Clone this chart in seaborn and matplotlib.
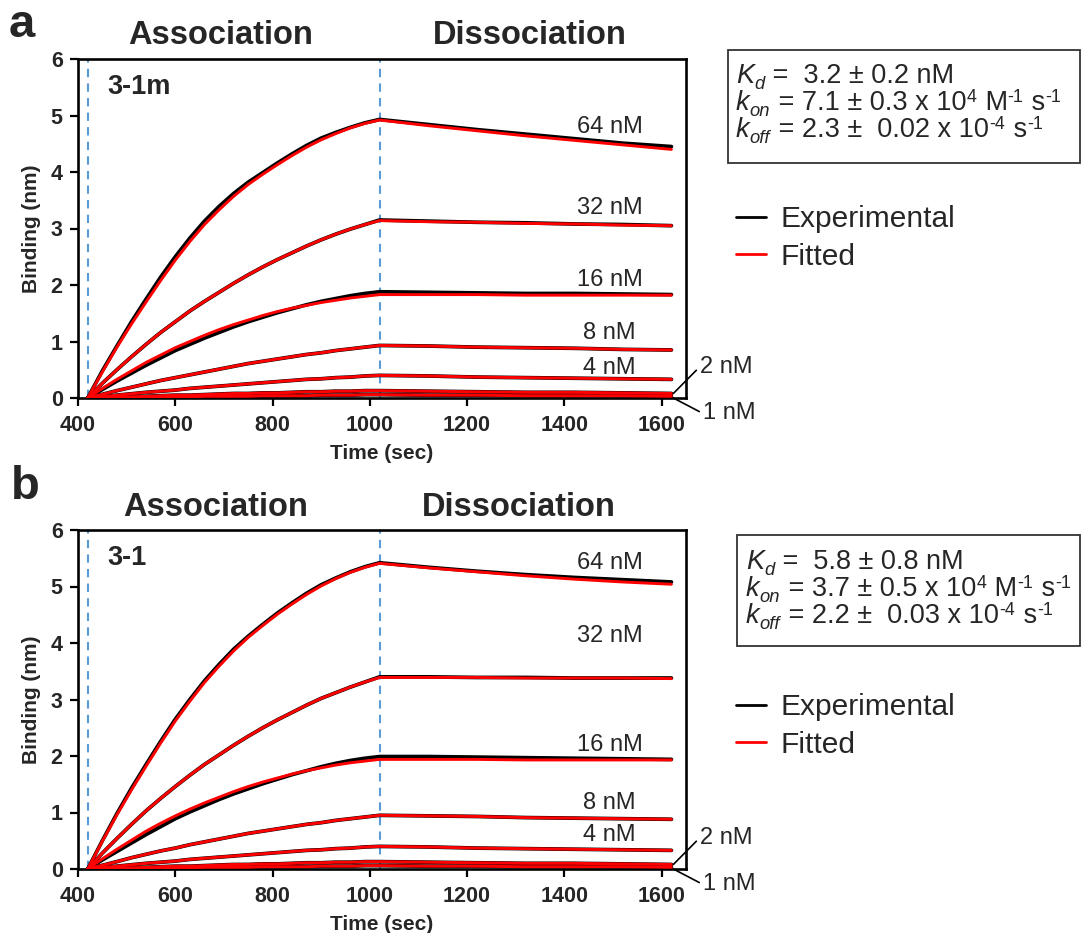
import matplotlib
matplotlib.use("Agg")
import matplotlib.pyplot as plt
from matplotlib.lines import Line2D
from matplotlib.patches import Rectangle
import seaborn as sns
import pandas as pd

# ---------------- data ----------------
T = [420, 450, 480, 510, 540, 570, 600, 630, 660, 690, 720, 750, 780, 810,
     840, 870, 900, 930, 960, 990, 1020,
     1120, 1220, 1320, 1420, 1520, 1620]
CONCS = [64, 32, 16, 8, 4, 2, 1]
ASSOC_START = 420
DISSOC_START = 1020

A_EXP = {
    64: [0, 0.48, 0.92, 1.35, 1.75, 2.14, 2.50, 2.83, 3.13, 3.39, 3.62, 3.82, 3.99, 4.16, 4.32, 4.47, 4.60, 4.70, 4.79, 4.87, 4.93,
         4.84, 4.75, 4.67, 4.59, 4.51, 4.45],
    32: [0, 0.26, 0.50, 0.73, 0.95, 1.16, 1.35, 1.54, 1.71, 1.87, 2.03, 2.18, 2.32, 2.45, 2.57, 2.69, 2.80, 2.90, 2.99, 3.07, 3.15,
         3.13, 3.11, 3.10, 3.08, 3.07, 3.05],
    16: [0, 0.15, 0.30, 0.44, 0.58, 0.71, 0.84, 0.95, 1.06, 1.16, 1.26, 1.35, 1.43, 1.51, 1.58, 1.65, 1.71, 1.76, 1.81, 1.85, 1.88,
         1.87, 1.86, 1.85, 1.85, 1.84, 1.83],
    8:  [0, 0.065, 0.13, 0.19, 0.25, 0.31, 0.36, 0.41, 0.46, 0.51, 0.56, 0.61, 0.65, 0.69, 0.73, 0.77, 0.80, 0.84, 0.87, 0.90, 0.93,
         0.92, 0.90, 0.89, 0.88, 0.86, 0.85],
    4:  [0, 0.025, 0.05, 0.075, 0.10, 0.12, 0.14, 0.17, 0.19, 0.21, 0.23, 0.25, 0.27, 0.29, 0.31, 0.33, 0.34, 0.36, 0.37, 0.39, 0.40,
         0.39, 0.37, 0.36, 0.35, 0.34, 0.33],
    2:  [0, 0.01, 0.02, 0.02, 0.03, 0.04, 0.05, 0.05, 0.06, 0.07, 0.08, 0.08, 0.09, 0.09, 0.10, 0.11, 0.11, 0.12, 0.12, 0.13, 0.13,
         0.12, 0.11, 0.10, 0.10, 0.09, 0.08],
    1:  [0, 0.00, 0.01, 0.01, 0.01, 0.02, 0.02, 0.02, 0.03, 0.03, 0.03, 0.03, 0.04, 0.04, 0.04, 0.04, 0.05, 0.05, 0.05, 0.06, 0.06,
         0.05, 0.05, 0.04, 0.04, 0.04, 0.03],
}
A_FIT = {
    64: [0, 0.46, 0.90, 1.31, 1.70, 2.08, 2.44, 2.77, 3.07, 3.33, 3.57, 3.78, 3.96, 4.13, 4.29, 4.44, 4.57, 4.68, 4.78, 4.86, 4.92,
         4.82, 4.73, 4.64, 4.56, 4.48, 4.40],
    32: [0, 0.26, 0.50, 0.73, 0.95, 1.16, 1.35, 1.54, 1.71, 1.87, 2.03, 2.18, 2.32, 2.45, 2.57, 2.69, 2.80, 2.90, 2.99, 3.07, 3.14,
         3.12, 3.11, 3.09, 3.08, 3.06, 3.05],
    16: [0, 0.17, 0.33, 0.48, 0.63, 0.76, 0.89, 1.00, 1.11, 1.21, 1.30, 1.38, 1.46, 1.53, 1.59, 1.64, 1.69, 1.73, 1.77, 1.80, 1.83,
         1.83, 1.83, 1.82, 1.82, 1.82, 1.82],
    8:  [0, 0.065, 0.13, 0.19, 0.25, 0.31, 0.36, 0.41, 0.46, 0.51, 0.56, 0.61, 0.65, 0.69, 0.73, 0.77, 0.80, 0.84, 0.87, 0.90, 0.93,
         0.92, 0.90, 0.89, 0.88, 0.86, 0.85],
    4:  [0, 0.025, 0.05, 0.075, 0.10, 0.12, 0.14, 0.17, 0.19, 0.21, 0.23, 0.25, 0.27, 0.29, 0.31, 0.33, 0.34, 0.36, 0.37, 0.39, 0.40,
         0.39, 0.37, 0.36, 0.35, 0.34, 0.33],
    2:  [0, 0.01, 0.02, 0.02, 0.03, 0.04, 0.05, 0.05, 0.06, 0.07, 0.08, 0.08, 0.09, 0.09, 0.10, 0.11, 0.11, 0.12, 0.12, 0.13, 0.13,
         0.12, 0.11, 0.10, 0.10, 0.09, 0.08],
    1:  [0, 0.00, 0.01, 0.01, 0.01, 0.02, 0.02, 0.02, 0.03, 0.03, 0.03, 0.03, 0.04, 0.04, 0.04, 0.04, 0.05, 0.05, 0.05, 0.06, 0.06,
         0.05, 0.05, 0.04, 0.04, 0.04, 0.03],
}
B_EXP = {
    64: [0, 0.50, 0.98, 1.43, 1.85, 2.26, 2.65, 3.00, 3.33, 3.62, 3.89, 4.12, 4.33, 4.53, 4.71, 4.88, 5.03, 5.15, 5.26, 5.35, 5.42,
         5.34, 5.27, 5.21, 5.16, 5.12, 5.08],
    32: [0, 0.28, 0.54, 0.79, 1.03, 1.25, 1.46, 1.66, 1.85, 2.02, 2.19, 2.35, 2.50, 2.64, 2.77, 2.90, 3.02, 3.12, 3.22, 3.31, 3.40,
         3.40, 3.39, 3.39, 3.38, 3.38, 3.38],
    16: [0, 0.16, 0.31, 0.46, 0.61, 0.75, 0.89, 1.01, 1.12, 1.23, 1.33, 1.42, 1.51, 1.59, 1.67, 1.74, 1.81, 1.87, 1.92, 1.96, 1.99,
         1.99, 1.98, 1.97, 1.96, 1.95, 1.94],
    8:  [0, 0.065, 0.13, 0.20, 0.26, 0.32, 0.37, 0.43, 0.48, 0.53, 0.58, 0.63, 0.67, 0.71, 0.75, 0.79, 0.82, 0.86, 0.89, 0.92, 0.95,
         0.94, 0.93, 0.91, 0.90, 0.89, 0.88],
    4:  [0, 0.025, 0.05, 0.075, 0.10, 0.12, 0.14, 0.17, 0.19, 0.21, 0.23, 0.25, 0.27, 0.29, 0.31, 0.33, 0.34, 0.36, 0.37, 0.39, 0.40,
         0.39, 0.37, 0.36, 0.35, 0.34, 0.33],
    2:  [0, 0.01, 0.02, 0.02, 0.03, 0.04, 0.05, 0.05, 0.06, 0.07, 0.08, 0.08, 0.09, 0.09, 0.10, 0.11, 0.11, 0.12, 0.12, 0.13, 0.13,
         0.12, 0.11, 0.10, 0.10, 0.09, 0.08],
    1:  [0, 0.00, 0.01, 0.01, 0.01, 0.02, 0.02, 0.02, 0.03, 0.03, 0.03, 0.03, 0.04, 0.04, 0.04, 0.04, 0.05, 0.05, 0.05, 0.06, 0.06,
         0.05, 0.05, 0.04, 0.04, 0.04, 0.03],
}
B_FIT = {
    64: [0, 0.49, 0.96, 1.40, 1.82, 2.23, 2.62, 2.97, 3.30, 3.59, 3.86, 4.10, 4.31, 4.51, 4.69, 4.86, 5.01, 5.14, 5.25, 5.34, 5.41,
         5.33, 5.26, 5.19, 5.13, 5.08, 5.04],
    32: [0, 0.28, 0.54, 0.79, 1.03, 1.25, 1.46, 1.66, 1.85, 2.02, 2.19, 2.35, 2.50, 2.64, 2.77, 2.90, 3.02, 3.12, 3.22, 3.31, 3.39,
         3.39, 3.39, 3.38, 3.38, 3.38, 3.37],
    16: [0, 0.18, 0.35, 0.51, 0.67, 0.81, 0.94, 1.06, 1.17, 1.27, 1.37, 1.46, 1.54, 1.61, 1.68, 1.74, 1.79, 1.84, 1.88, 1.91, 1.94,
         1.94, 1.94, 1.93, 1.93, 1.93, 1.93],
    8:  [0, 0.065, 0.13, 0.20, 0.26, 0.32, 0.37, 0.43, 0.48, 0.53, 0.58, 0.63, 0.67, 0.71, 0.75, 0.79, 0.82, 0.86, 0.89, 0.92, 0.95,
         0.94, 0.93, 0.91, 0.90, 0.89, 0.88],
    4:  [0, 0.025, 0.05, 0.075, 0.10, 0.12, 0.14, 0.17, 0.19, 0.21, 0.23, 0.25, 0.27, 0.29, 0.31, 0.33, 0.34, 0.36, 0.37, 0.39, 0.40,
         0.39, 0.37, 0.36, 0.35, 0.34, 0.33],
    2:  [0, 0.01, 0.02, 0.02, 0.03, 0.04, 0.05, 0.05, 0.06, 0.07, 0.08, 0.08, 0.09, 0.09, 0.10, 0.11, 0.11, 0.12, 0.12, 0.13, 0.13,
         0.12, 0.11, 0.10, 0.10, 0.09, 0.08],
    1:  [0, 0.00, 0.01, 0.01, 0.01, 0.02, 0.02, 0.02, 0.03, 0.03, 0.03, 0.03, 0.04, 0.04, 0.04, 0.04, 0.05, 0.05, 0.05, 0.06, 0.06,
         0.05, 0.05, 0.04, 0.04, 0.04, 0.03],
}

A_LABEL_Y = {64: 4.80, 32: 3.36, 16: 2.09, 8: 1.15, 4: 0.53}
B_LABEL_Y = {64: 5.42, 32: 4.12, 16: 2.19, 8: 1.17, 4: 0.60}

# rich text lines: (text, kind) with kind n=normal, i=italic, sub=italic subscript, sup=superscript
A_PARAMS = [
    [("K", "i"), ("d", "sub"), (" =  3.2 ± 0.2 nM", "n")],
    [("k", "i"), ("on", "sub"), (" = 7.1 ± 0.3 x 10", "n"), ("4", "sup"), (" M", "n"), ("-1", "sup"),
     (" s", "n"), ("-1", "sup")],
    [("k", "i"), ("off", "sub"), (" = 2.3 ±  0.02 x 10", "n"), ("-4", "sup"), (" s", "n"), ("-1", "sup")],
]
B_PARAMS = [
    [("K", "i"), ("d", "sub"), (" =  5.8 ± 0.8 nM", "n")],
    [("k", "i"), ("on", "sub"), (" = 3.7 ± 0.5 x 10", "n"), ("4", "sup"), (" M", "n"), ("-1", "sup"),
     (" s", "n"), ("-1", "sup")],
    [("k", "i"), ("off", "sub"), (" = 2.2 ±  0.03 x 10", "n"), ("-4", "sup"), (" s", "n"), ("-1", "sup")],
]

X_TICKS = [400, 600, 800, 1000, 1200, 1400, 1600]
Y_TICKS = [0, 1, 2, 3, 4, 5, 6]

# ---------------- style ----------------
sns.set_style("ticks")
plt.rcParams['font.family'] = ['Liberation Sans', 'DejaVu Sans']

W, H = 1086, 933
fig = plt.figure(figsize=(W / 100, H / 100), dpi=100)
renderer = fig.canvas.get_renderer()


def fx(px):
    return px / W


def fy(py):
    return 1 - py / H


def long_df(d):
    rows = []
    for c in CONCS:
        for t, v in zip(T, d[c]):
            rows.append({"time": t, "binding": v, "conc": c})
    return pd.DataFrame(rows)


def draw_panel(top_px, exp, fit, label_y, name):
    ax = fig.add_axes([fx(78), fy(top_px + 339), fx(686) - fx(78), 339 / H])
    ax.axvline(ASSOC_START, color='#5B9BD5', lw=1.5, ls=(0, (4, 3)), zorder=1)
    ax.axvline(DISSOC_START, color='#5B9BD5', lw=1.5, ls=(0, (4, 3)), zorder=1)
    sns.lineplot(data=long_df(exp), x="time", y="binding", units="conc", estimator=None,
                 color='black', lw=2.7, ax=ax, zorder=2)
    sns.lineplot(data=long_df(fit), x="time", y="binding", units="conc", estimator=None,
                 color='#FF0000', lw=2.1, ax=ax, zorder=3)
    ax.set_xlim(400, 1650)
    ax.set_ylim(0, 6)
    ax.set_xticks(X_TICKS)
    ax.set_yticks(Y_TICKS)
    for lbl in ax.get_xticklabels() + ax.get_yticklabels():
        lbl.set_fontweight('bold')
    ax.tick_params(axis='both', labelsize=15.5, width=1.6, length=6, color='black',
                   direction='out')
    ax.tick_params(axis='x', pad=6)
    ax.tick_params(axis='y', pad=5)
    for s in ax.spines.values():
        s.set_linewidth(1.9)
        s.set_color('black')
        s.set_visible(True)
    ax.set_xlabel("Time (sec)", fontsize=15, fontweight='bold', labelpad=6)
    ax.set_ylabel("Binding (nm)", fontsize=15, fontweight='bold', labelpad=7)
    for c, yv in label_y.items():
        ax.text(1493, yv, f"{c} nM", fontsize=17, ha='center', va='center')
    ax.annotate("2 nM", xy=(T[-1] + 4, fit[2][-1]), xytext=(1678, 0.55),
                fontsize=17, ha='left', va='center', annotation_clip=False,
                arrowprops=dict(arrowstyle='-', lw=1.2, color='black',
                                shrinkA=0, shrinkB=0, relpos=(0, 0.5)))
    ax.annotate("1 nM", xy=(T[-1] + 4, fit[1][-1] - 0.03), xytext=(1684, -0.27),
                fontsize=17, ha='left', va='center', annotation_clip=False,
                arrowprops=dict(arrowstyle='-', lw=1.2, color='black',
                                shrinkA=0, shrinkB=0, relpos=(0, 0.5)))
    fig.text(fx(107), fy(top_px + 28), name, fontsize=19.5, fontweight='bold',
             ha='left', va='center')
    return ax


axA = draw_panel(59, A_EXP, A_FIT, A_LABEL_Y, "3-1m")
axB = draw_panel(530, B_EXP, B_FIT, B_LABEL_Y, "3-1")

# titles and panel letters
for cx, cy, s in [(221, 36, "Association"), (530, 36, "Dissociation"),
                  (216, 507, "Association"), (519, 507, "Dissociation")]:
    fig.text(fx(cx), fy(cy), s, fontsize=23.5, fontweight='bold', ha='center', va='center')
fig.text(fx(9), fy(25), "a", fontsize=34, fontweight='bold', ha='left', va='center')
fig.text(fx(11), fy(487), "b", fontsize=34, fontweight='bold', ha='left', va='center')


# parameter boxes with manually composed sub/superscripts
def rich_line(x_px, base_px, pieces, size=19.5):
    x = x_px
    for txt, kind in pieces:
        if kind == "n":
            kw, dy = dict(fontsize=size), 0
        elif kind == "i":
            kw, dy = dict(fontsize=size, style='italic'), 0
        elif kind == "sub":
            kw, dy = dict(fontsize=size * 0.68, style='italic'), 6
        else:
            kw, dy = dict(fontsize=size * 0.66), -8
        t = fig.text(fx(x), fy(base_px + dy), txt, ha='left', va='baseline', **kw)
        bb = t.get_window_extent(renderer=renderer)
        x += bb.width + (1 if kind in ("sub", "sup") else 0)


def param_box(left, top, bottom, text_left, baselines, lines):
    fig.patches.append(Rectangle((fx(left), fy(bottom)), fx(1080) - fx(left),
                                 (bottom - top) / H, transform=fig.transFigure,
                                 fill=False, edgecolor='#333333', lw=1.3))
    for bl, ln in zip(baselines, lines):
        rich_line(text_left, bl, ln)


param_box(728, 50, 163, 736, [83, 110, 137], A_PARAMS)
param_box(737, 535, 646, 746, [569, 596, 623], B_PARAMS)

# legends
handles = [Line2D([0], [0], color='black', lw=2), Line2D([0], [0], color='#FF0000', lw=2)]
for y0 in (205, 693):
    fig.legend(handles=handles, labels=["Experimental", "Fitted"], loc='upper left',
               bbox_to_anchor=(fx(736), fy(y0)), frameon=False, fontsize=21.5,
               handlelength=1.0, handletextpad=0.5, labelspacing=0.33,
               borderpad=0, borderaxespad=0)

fig.savefig("out.png", dpi=100)
